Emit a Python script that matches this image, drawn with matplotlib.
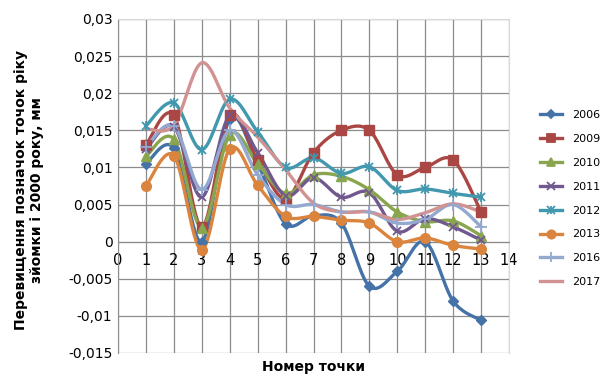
import matplotlib.pyplot as plt
import numpy as np
from matplotlib.lines import Line2D
from matplotlib.legend_handler import HandlerTuple

points = np.arange(1, 14)
years = ['2006', '2009', '2010', '2011', '2012', '2013', '2016', '2017']
y2006 = [0.0105, 0.0126, 0.0, 0.0165, 0.0105, 0.0024, 0.0035, 0.0025, -0.006, -0.004, 0.0, -0.008, -0.0106]
y2009 = [0.013, 0.017, 0.002, 0.017, 0.011, 0.0058, 0.012, 0.015, 0.015, 0.009, 0.01, 0.011, 0.004]
y2010 = [0.0115, 0.0138, 0.0019, 0.0144, 0.0105, 0.0065, 0.009, 0.0088, 0.007, 0.004, 0.0027, 0.0028, 0.0008]
y2011 = [0.0125, 0.0155, 0.006, 0.017, 0.012, 0.0062, 0.0086, 0.006, 0.0066, 0.0014, 0.0031, 0.002, 0.0002]
y2012 = [0.0156, 0.0187, 0.0124, 0.0192, 0.0148, 0.01, 0.0113, 0.0092, 0.0101, 0.0069, 0.0071, 0.0065, 0.006]
y2013 = [0.0075, 0.0116, -0.0011, 0.0125, 0.0076, 0.0034, 0.0034, 0.0029, 0.0025, 0.0, 0.0005, -0.0005, -0.001]
y2016 = [0.0128, 0.0156, 0.007, 0.015, 0.009, 0.005, 0.005, 0.004, 0.004, 0.0025, 0.003, 0.005, 0.002]
y2017 = [0.0152, 0.0157, 0.0241, 0.018, 0.0141, 0.0097, 0.0052, 0.004, 0.004, 0.003, 0.0039, 0.0051, 0.004]

series = [y2006, y2009, y2010, y2011, y2012, y2013, y2016, y2017]
colors = ['#4572A7', '#AA4643', '#89A54E', '#71588F', '#4198AF', '#DB843D', '#93A9CF', '#D19392']
markers = ['D', 's', '^', 'x', 'x', 'o', '+', None]
msizes = [5, 7, 7, 6, 6, 7, 8, 0]


def smooth(x, y, n=20):
    # excel-like smoothing: catmull-rom via cubic bezier
    x = np.asarray(x, float)
    y = np.asarray(y, float)
    px = np.concatenate([[x[0]], x, [x[-1]]])
    py = np.concatenate([[y[0]], y, [y[-1]]])
    xs, ys = [], []
    t = np.linspace(0, 1, n)
    for i in range(1, len(px) - 2):
        p0 = np.array([px[i], py[i]])
        p3 = np.array([px[i + 1], py[i + 1]])
        c1 = p0 + (np.array([px[i + 1], py[i + 1]]) - np.array([px[i - 1], py[i - 1]])) / 6
        c2 = p3 - (np.array([px[i + 2], py[i + 2]]) - np.array([px[i], py[i]])) / 6
        b = ((1 - t) ** 3)[:, None] * p0 + (3 * (1 - t) ** 2 * t)[:, None] * c1 \
            + (3 * (1 - t) * t ** 2)[:, None] * c2 + (t ** 3)[:, None] * p3
        xs.extend(b[:, 0])
        ys.extend(b[:, 1])
    return np.array(xs), np.array(ys)


fig = plt.figure(figsize=(6.04, 3.75), dpi=100)
ax = fig.add_axes([118 / 604, 22 / 375, 391 / 604, 334 / 375])

handles = []
for vals, c, m, ms, lab in zip(series, colors, markers, msizes, years):
    sx, sy = smooth(points, vals)
    ax.plot(sx, sy, color=c, lw=2.4, zorder=3)
    h = Line2D([0], [0], color=c, lw=2.4, marker=m, markersize=ms * 0.85, markeredgewidth=1.3)
    if m is not None:
        mew = 1.3 if m in ('x', '+') else 1
        ax.plot(points, vals, linestyle='none', marker=m, markersize=ms, color=c,
                markeredgecolor=c, markeredgewidth=mew, zorder=4)
    if lab == '2012':
        # excel star marker: x plus a vertical bar
        ax.plot(points, vals, linestyle='none', marker='|', markersize=ms * 1.2, color=c,
                markeredgewidth=1.3, zorder=4)
        h2 = Line2D([0], [0], color=c, lw=0, marker='|', markersize=ms, markeredgewidth=1.3)
        h = (h, h2)
    handles.append(h)

ax.set_xlim(0, 14)
ax.set_ylim(-0.015, 0.03)
ax.set_xticks(range(0, 15))
yt = np.arange(-0.015, 0.0301, 0.005)
ax.set_yticks(yt)
ax.set_yticklabels([('%.3f' % v).rstrip('0').rstrip('.').replace('.', ',') if abs(v) > 1e-9 else '0'
                    for v in yt], fontsize=10)
ax.grid(True, color='#8c8c8c', lw=0.9, zorder=0)
ax.spines['bottom'].set_position(('data', 0))
ax.spines['bottom'].set_color('#8c8c8c')
ax.spines['left'].set_color('#8c8c8c')
ax.spines['top'].set_color('#d9d9d9')
ax.spines['right'].set_color('#d9d9d9')
ax.tick_params(axis='x', length=0, labelsize=10.5, pad=8)
ax.tick_params(axis='y', length=0, labelsize=10, pad=4)

fig.text(313 / 604, 8 / 375, 'Номер точки', ha='center', va='center', fontsize=10, fontweight='bold')
fig.text(29 / 604, 185 / 375, 'Перевищення позначок точок ріку\nзйомки і 2000 року, мм', ha='center',
         va='center', rotation=90, fontsize=10, fontweight='bold', linespacing=1.15)

fig.legend(handles=handles, labels=years, loc='upper left', bbox_to_anchor=(530 / 604, 1 - 100 / 375),
           frameon=False, fontsize=8, handlelength=2.0, labelspacing=1.25, handletextpad=0.9,
           handler_map={tuple: HandlerTuple(ndivide=1, pad=0)})

fig.savefig('out.png', dpi=100)
